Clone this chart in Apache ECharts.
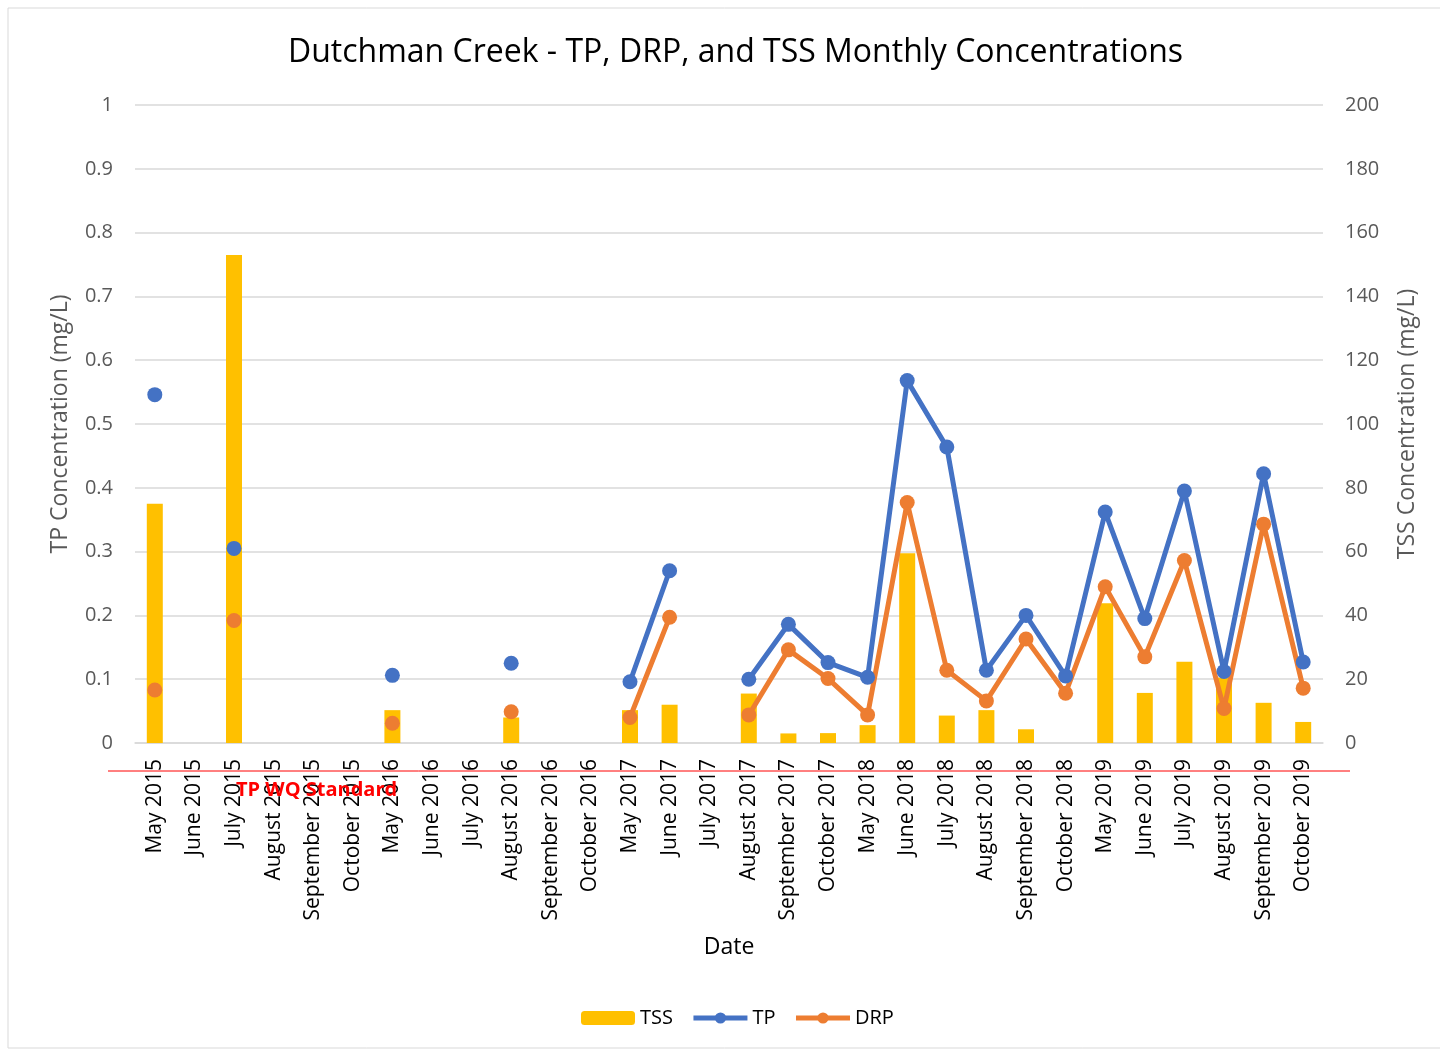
<!DOCTYPE html>
<html>
<head>
<meta charset="utf-8">
<script src="https://cdn.jsdelivr.net/npm/echarts@6/dist/echarts.min.js"></script>
<style>
	html, body { margin: 0; padding: 0; background: #fff; }
	#main { width: 1440px; height: 1052px; }
</style>
</head>
<body>
<div id="main"></div>
<script>
	// months sampled
	var months = ['May 2015', 'June 2015', 'July 2015', 'August 2015', 'September 2015', 'October 2015',
		'May 2016', 'June 2016', 'July 2016', 'August 2016', 'September 2016', 'October 2016',
		'May 2017', 'June 2017', 'July 2017', 'August 2017', 'September 2017', 'October 2017',
		'May 2018', 'June 2018', 'July 2018', 'August 2018', 'September 2018', 'October 2018',
		'May 2019', 'June 2019', 'July 2019', 'August 2019', 'September 2019', 'October 2019']
	// TSS mg/L (right axis)
	var tss = [75, null, 153, null, null, null,
		10.3, null, null, 8, null, null,
		10.3, 12, null, 15.5, 3, 3.1,
		5.6, 59.5, 8.6, 10.3, 4.3, null,
		43.8, 15.7, 25.5, 20.5, 12.6, 6.6]
	// TP mg/L (left axis)
	var tp = [0.546, null, 0.305, null, null, null,
		0.106, null, null, 0.125, null, null,
		0.096, 0.27, null, 0.10, 0.186, 0.126,
		0.103, 0.568, 0.464, 0.114, 0.2, 0.105,
		0.362, 0.195, 0.395, 0.112, 0.422, 0.127]
	// DRP mg/L (left axis)
	var drp = [0.083, null, 0.192, null, null, null,
		0.031, null, null, 0.049, null, null,
		0.040, 0.197, null, 0.044, 0.146, 0.101,
		0.044, 0.377, 0.114, 0.066, 0.163, 0.078,
		0.245, 0.135, 0.286, 0.054, 0.343, 0.086]

	var font = 'Open Sans'
	var chart = echarts.init(document.getElementById('main'))
	chart.setOption({
		animation: false,
		textStyle: { fontFamily: font },
		title: {
			text: 'Dutchman Creek - TP, DRP, and TSS Monthly Concentrations',
			left: 283,
			top: 32,
			textStyle: { fontSize: 32, fontWeight: 'normal', color: '#000', fontFamily: font }
		},
		grid: { left: 135, right: 117, top: 105, bottom: 309 },
		legend: {
			bottom: 19,
			left: 576,
			itemWidth: 54,
			itemHeight: 14,
			itemGap: 18,
			textStyle: { fontSize: 20, color: '#000', fontFamily: font },
			data: [
				{ name: 'TSS', itemStyle: { color: '#FFC000' } },
				{ name: 'TP', lineStyle: { width: 5 } },
				{ name: 'DRP', lineStyle: { width: 5 } }
			]
		},
		xAxis: {
			type: 'category',
			data: months,
			name: 'Date',
			nameLocation: 'middle',
			nameGap: 193,
			nameTextStyle: { fontSize: 23, color: '#000', fontFamily: font },
			axisLine: { lineStyle: { color: '#d9d9d9', width: 1.5 } },
			axisTick: { show: false },
			axisLabel: { rotate: 90, fontSize: 21, color: '#000', margin: 16, interval: 0 }
		},
		yAxis: [{
			type: 'value',
			min: 0, max: 1, interval: 0.1,
			name: 'TP Concentration (mg/L)',
			nameLocation: 'middle',
			nameGap: 63,
			nameTextStyle: { fontSize: 23, color: '#595959', fontFamily: font },
			axisLabel: { fontSize: 20, color: '#595959', margin: 22 },
			axisLine: { show: false },
			axisTick: { show: false },
			splitLine: { lineStyle: { color: '#d9d9d9', width: 1.5 } }
		}, {
			type: 'value',
			min: 0, max: 200, interval: 20,
			name: 'TSS Concentration (mg/L)',
			nameLocation: 'middle',
			nameGap: 73,
			nameRotate: 90,
			nameTextStyle: { fontSize: 23, color: '#595959', fontFamily: font },
			axisLabel: { fontSize: 20, color: '#595959', margin: 22 },
			axisLine: { show: false },
			axisTick: { show: false },
			splitLine: { show: false }
		}],
		series: [{
			name: 'TSS',
			type: 'bar',
			yAxisIndex: 1,
			barWidth: 16,
			itemStyle: { color: '#FFC000' },
			data: tss
		}, {
			name: 'TP',
			type: 'line',
			yAxisIndex: 0,
			connectNulls: false,
			symbol: 'circle',
			symbolSize: 15,
			lineStyle: { color: '#4472C4', width: 5 },
			itemStyle: { color: '#4472C4' },
			data: tp
		}, {
			name: 'DRP',
			type: 'line',
			yAxisIndex: 0,
			connectNulls: false,
			symbol: 'circle',
			symbolSize: 15,
			lineStyle: { color: '#ED7D31', width: 5 },
			itemStyle: { color: '#ED7D31' },
			data: drp
		}],
		graphic: [{
			type: 'rect',
			shape: { x: 8, y: 8, width: 1440, height: 1040 },
			style: { fill: 'none', stroke: '#d9d9d9', lineWidth: 1 },
			silent: true
		}, {
			// TP WQ standard annotation
			type: 'line',
			shape: { x1: 108, y1: 771, x2: 1350, y2: 771 },
			style: { stroke: '#ff0000', lineWidth: 1 },
			z: 100
		}, {
			type: 'text',
			left: 236,
			top: 780,
			style: { text: 'TP WQ Standard', fill: '#ff0000', font: 'bold 20px "Open Sans"' },
			z: 100
		}]
	})
</script>
</body>
</html>
